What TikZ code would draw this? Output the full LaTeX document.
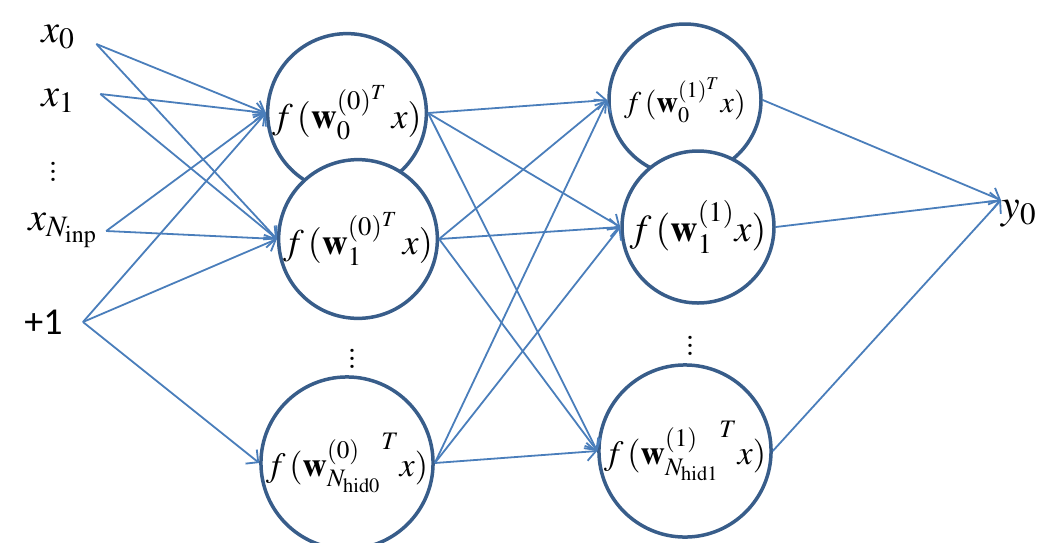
\documentclass[tikz,border=0pt]{standalone}
\usepackage[no-math]{fontspec}
\newfontfamily\calibri{Carlito}
\usepackage{mathptmx}
\usetikzlibrary{arrows.meta}
\definecolor{ringblue}{HTML}{385D8A}
\definecolor{linkblue}{HTML}{4A7EBB}

\begin{document}
\begin{tikzpicture}
[x=0.5pt,y=-0.5pt,->,>={Straight Barb[length=4.5pt,width=9pt]},
neuron/.style={circle,draw=ringblue,line width=1.75pt,fill=white,inner sep=0pt,minimum size=76pt,font=\fontsize{18}{21}\selectfont},
link/.style={color=linkblue,line width=0.9pt},
inp/.style={inner sep=0pt,font=\fontsize{20}{24}\selectfont}]
\useasboundingbox (0,0) rectangle (1044,542);

% input layer
\node[inp,anchor=base west] at (41,42)  (x0) {$x_0$};
\node[inp,anchor=base west] at (41,106) (x1) {$x_1$};
\node[inp] at (53,166) (xd) {$\vdots$};
\node[inp,anchor=base west] at (28,230) (xN) {$x_{N_{\mathrm{inp}}}$};
\node[inp,anchor=west,font=\calibri\fontsize{19}{22}\selectfont] at (24,322) (p1) {+1};

% first hidden layer
\node[neuron] at (347,113) (a0) {$f\,(\mathbf{w}_0^{(0)^T}\,x)$};
\node[neuron] at (358,239) (a1) {$f\,(\mathbf{w}_1^{(0)^T}\,x)$};
\node[inp] at (352,353) (ad) {$\vdots$};
\node[neuron,font=\fontsize{17}{20}\selectfont] at (347,463) (a2) {$f\,({\mathbf{w}^{(0)}_{N_{\mathrm{hid0}}}}^{T}x)$};

% second hidden layer
\node[neuron,font=\fontsize{15}{18}\selectfont] at (685,100) (b0) {$f\,(\mathbf{w}_0^{(1)^T}x)$};
\node[neuron,font=\fontsize{19}{22}\selectfont] at (698,227) (b1) {$f\,(\mathbf{w}_1^{(1)}x)$};
\node[inp] at (690,340) (bd) {$\vdots$};
\node[neuron,font=\fontsize{17}{20}\selectfont] at (685,451) (b2) {$f\,({\mathbf{w}^{(1)}_{N_{\mathrm{hid1}}}}^{T}x)$};

% output
\node[inp,anchor=base west,font=\fontsize{21}{25}\selectfont] at (1001,218) (y0) {$y_0$};

% input -> hidden 0
\path[link] ([xshift=10.5pt,yshift=-1pt]x0.base east) edge (a0.west) edge (a1.west);
\path[link] ([xshift=12.5pt,yshift=6pt]x1.base east) edge (a0.west) edge (a1.west);
\path[link] ([xshift=4pt,yshift=-0.5pt]xN.base east) edge (a0.west) edge (a1.west);
\path[link] ([xshift=10pt]p1.east) edge (a0.west) edge (a1.west) edge (a2.west);

% hidden 0 -> hidden 1
\path[link] (a0.east) edge (b0.west) edge (b1.west) edge (b2.west);
\path[link] (a1.east) edge (b0.west) edge (b1.west) edge (b2.west);
\path[link] (a2.east) edge (b0.west) edge (b1.west) edge (b2.west);

% hidden 1 -> output
\path[link] (b0.east) edge ([yshift=6.5pt]y0.west);
\path[link] (b1.east) edge ([yshift=6.5pt]y0.west);
\path[link] (b2.east) edge ([yshift=6.5pt]y0.west);
\end{tikzpicture}
\end{document}
